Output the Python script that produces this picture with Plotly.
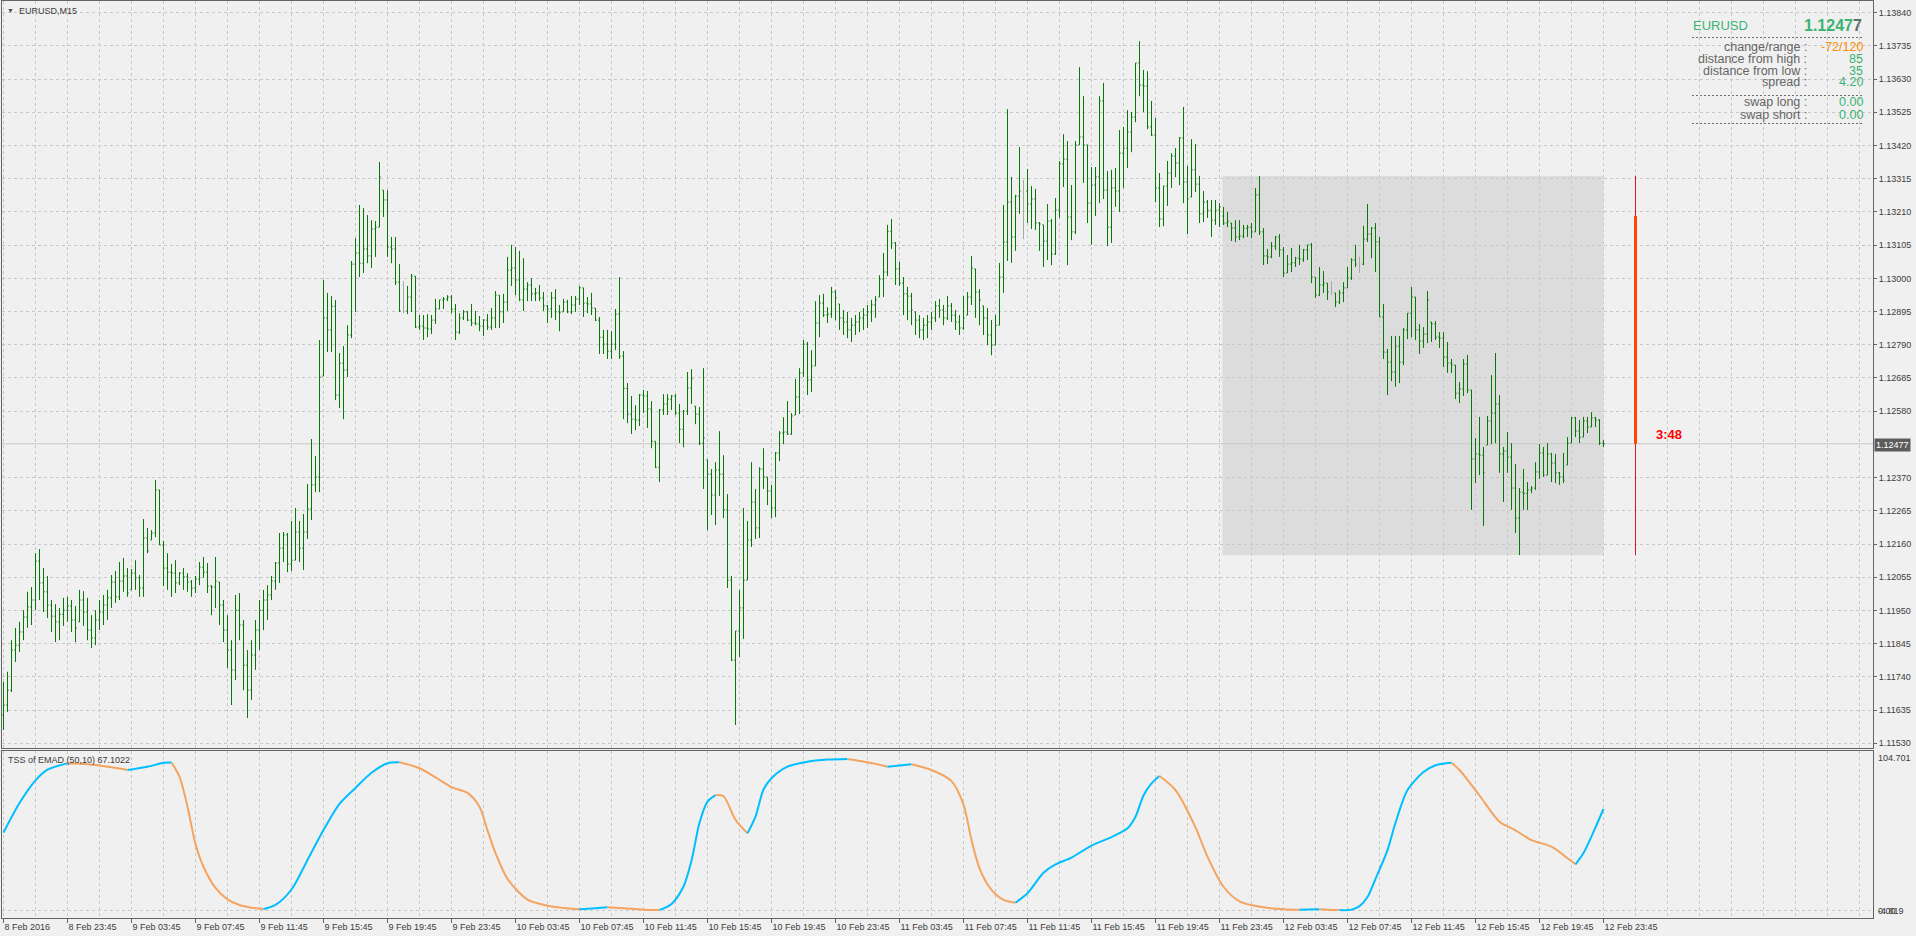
import plotly.graph_objects as go

# ------------------------------------------------------------------
# DATA  (EURUSD M15, bar 0 = 8 Feb 2016 19:45 ... bar 400 = 12 Feb 23:45)
# ------------------------------------------------------------------
opens = [
    1.11619, 1.11651, 1.11698, 1.11825, 1.11840, 1.11882, 1.11929, 1.11961, 1.11983, 1.12106,
    1.12037, 1.12009, 1.11967, 1.11932, 1.11914, 1.11938, 1.11951, 1.11964, 1.11920, 1.11914,
    1.11983, 1.11945, 1.11888, 1.11863, 1.11920, 1.11945, 1.11967, 1.11990, 1.12040, 1.11993,
    1.12043, 1.12059, 1.12015, 1.12068, 1.12053, 1.12021, 1.12179, 1.12173, 1.12195, 1.12331,
    1.12157, 1.12084, 1.12071, 1.12068, 1.12037, 1.12068, 1.12056, 1.12040, 1.12021, 1.12049,
    1.12087, 1.12071, 1.12027, 1.12024, 1.12040, 1.11967, 1.11888, 1.11825, 1.11762, 1.11951,
    1.11904, 1.11777, 1.11698, 1.11809, 1.11888, 1.11951, 1.11983, 1.11999, 1.12043, 1.12100,
    1.12147, 1.12189, 1.12097, 1.12109, 1.12198, 1.12147, 1.12198, 1.12271, 1.12347, 1.12372,
    1.12691, 1.12875, 1.12837, 1.12912, 1.12631, 1.12732, 1.12710, 1.12821, 1.13045, 1.13080,
    1.13048, 1.13093, 1.13071, 1.13156, 1.13162, 1.13279, 1.13248, 1.13099, 1.13093, 1.12988,
    1.12897, 1.12897, 1.12941, 1.13007, 1.12846, 1.12849, 1.12843, 1.12840, 1.12868, 1.12903,
    1.12932, 1.12935, 1.12941, 1.12903, 1.12830, 1.12875, 1.12894, 1.12868, 1.12859, 1.12856,
    1.12849, 1.12868, 1.12846, 1.12875, 1.12947, 1.12894, 1.12925, 1.13026, 1.13033, 1.12995,
    1.12932, 1.12966, 1.12979, 1.12951, 1.12954, 1.12938, 1.12913, 1.12903, 1.12938, 1.12894,
    1.12894, 1.12925, 1.12894, 1.12916, 1.12935, 1.12970, 1.12922, 1.12919, 1.12906, 1.12868,
    1.12814, 1.12792, 1.12770, 1.12792, 1.12887, 1.12754, 1.12652, 1.12571, 1.12555, 1.12552,
    1.12631, 1.12628, 1.12587, 1.12485, 1.12403, 1.12584, 1.12603, 1.12618, 1.12628, 1.12574,
    1.12523, 1.12580, 1.12653, 1.12596, 1.12571, 1.12479, 1.12426, 1.12381, 1.12315, 1.12394,
    1.12381, 1.12268, 1.12046, 1.11793, 1.11885, 1.11958, 1.12046, 1.12173, 1.12293, 1.12211,
    1.12397, 1.12372, 1.12328, 1.12274, 1.12448, 1.12511, 1.12514, 1.12508, 1.12568, 1.12625,
    1.12701, 1.12792, 1.12679, 1.12723, 1.12859, 1.12922, 1.12884, 1.12887, 1.12957, 1.12919,
    1.12875, 1.12862, 1.12837, 1.12852, 1.12862, 1.12875, 1.12884, 1.12894, 1.12916, 1.12941,
    1.12998, 1.13020, 1.13149, 1.13112, 1.13030, 1.12985, 1.12951, 1.12944, 1.12894, 1.12868,
    1.12837, 1.12852, 1.12862, 1.12875, 1.12913, 1.12900, 1.12875, 1.12913, 1.12884, 1.12862,
    1.12843, 1.12884, 1.12941, 1.13030, 1.12957, 1.12913, 1.12875, 1.12821, 1.12789, 1.12852,
    1.13004, 1.13115, 1.13241, 1.13131, 1.13260, 1.13276, 1.13276, 1.13235, 1.13251, 1.13175,
    1.13169, 1.13118, 1.13181, 1.13077, 1.13216, 1.13362, 1.13377, 1.13194, 1.13147, 1.13422,
    1.13447, 1.13422, 1.13238, 1.13295, 1.13321, 1.13561, 1.13279, 1.13162, 1.13286, 1.13276,
    1.13396, 1.13412, 1.13463, 1.13510, 1.13681, 1.13611, 1.13608, 1.13479, 1.13453, 1.13286,
    1.13188, 1.13292, 1.13333, 1.13387, 1.13365, 1.13444, 1.13305, 1.13257, 1.13343, 1.13298,
    1.13204, 1.13241, 1.13216, 1.13184, 1.13216, 1.13197, 1.13175, 1.13175, 1.13159, 1.13131,
    1.13134, 1.13159, 1.13162, 1.13147, 1.13264, 1.13147, 1.13071, 1.13068, 1.13102, 1.13131,
    1.13090, 1.13017, 1.13045, 1.13049, 1.13064, 1.13061, 1.13090, 1.13106, 1.13004, 1.12947,
    1.12979, 1.12985, 1.12957, 1.12954, 1.12925, 1.12954, 1.12970, 1.13001, 1.13058, 1.13045,
    1.13045, 1.13124, 1.13140, 1.13159, 1.13115, 1.12878, 1.12767, 1.12735, 1.12704, 1.12786,
    1.12735, 1.12837, 1.12890, 1.12941, 1.12837, 1.12802, 1.12824, 1.12862, 1.12856, 1.12814,
    1.12811, 1.12751, 1.12732, 1.12726, 1.12637, 1.12650, 1.12729, 1.12647, 1.12429, 1.12445,
    1.12441, 1.12473, 1.12549, 1.12574, 1.12603, 1.12445, 1.12454, 1.12435, 1.12337, 1.12242,
    1.12324, 1.12320, 1.12331, 1.12337, 1.12388, 1.12448, 1.12378, 1.12445, 1.12416, 1.12385,
    1.12372, 1.12410, 1.12479, 1.12559, 1.12517, 1.12498, 1.12549, 1.12530, 1.12559, 1.12552,
    1.12479,
]
highs = [
    1.11724, 1.11756, 1.11856, 1.11895, 1.11914, 1.11951, 1.12009, 1.12024, 1.12131, 1.12144,
    1.12084, 1.12059, 1.11983, 1.11970, 1.11958, 1.11990, 1.11993, 1.11983, 1.11964, 1.12015,
    1.12011, 1.11990, 1.11935, 1.11951, 1.11983, 1.11999, 1.12015, 1.12062, 1.12075, 1.12103,
    1.12116, 1.12084, 1.12081, 1.12109, 1.12062, 1.12239, 1.12211, 1.12204, 1.12362, 1.12331,
    1.12170, 1.12131, 1.12097, 1.12109, 1.12071, 1.12084, 1.12068, 1.12046, 1.12059, 1.12103,
    1.12119, 1.12100, 1.12030, 1.12119, 1.12040, 1.11983, 1.11935, 1.11856, 1.11999, 1.12005,
    1.11920, 1.11825, 1.11856, 1.11920, 1.11983, 1.12015, 1.12030, 1.12059, 1.12103, 1.12195,
    1.12198, 1.12195, 1.12233, 1.12274, 1.12233, 1.12255, 1.12350, 1.12492, 1.12438, 1.12805,
    1.12995, 1.12954, 1.12944, 1.12932, 1.12764, 1.12786, 1.12852, 1.13055, 1.13127, 1.13232,
    1.13222, 1.13200, 1.13184, 1.13181, 1.13368, 1.13279, 1.13279, 1.13131, 1.13131, 1.13045,
    1.12991, 1.12976, 1.13014, 1.13007, 1.12884, 1.12884, 1.12887, 1.12884, 1.12935, 1.12932,
    1.12941, 1.12947, 1.12947, 1.12919, 1.12890, 1.12900, 1.12897, 1.12919, 1.12897, 1.12881,
    1.12871, 1.12887, 1.12906, 1.12960, 1.12947, 1.12951, 1.13068, 1.13106, 1.13099, 1.13087,
    1.13064, 1.12988, 1.13001, 1.12970, 1.12979, 1.12957, 1.12916, 1.12957, 1.12966, 1.12916,
    1.12935, 1.12932, 1.12944, 1.12944, 1.12976, 1.12970, 1.12941, 1.12954, 1.12906, 1.12878,
    1.12837, 1.12837, 1.12833, 1.12903, 1.13004, 1.12770, 1.12669, 1.12628, 1.12599, 1.12634,
    1.12647, 1.12644, 1.12612, 1.12485, 1.12587, 1.12634, 1.12634, 1.12631, 1.12634, 1.12603,
    1.12584, 1.12704, 1.12713, 1.12596, 1.12593, 1.12716, 1.12426, 1.12397, 1.12419, 1.12517,
    1.12441, 1.12318, 1.12059, 1.11885, 1.12015, 1.12274, 1.12233, 1.12419, 1.12334, 1.12403,
    1.12463, 1.12372, 1.12347, 1.12451, 1.12517, 1.12561, 1.12612, 1.12574, 1.12682, 1.12716,
    1.12805, 1.12799, 1.12773, 1.12928, 1.12947, 1.12951, 1.12909, 1.12973, 1.12963, 1.12919,
    1.12900, 1.12894, 1.12875, 1.12884, 1.12894, 1.12906, 1.12916, 1.12932, 1.12944, 1.13010,
    1.13080, 1.13169, 1.13188, 1.13115, 1.13052, 1.13004, 1.12973, 1.12954, 1.12894, 1.12884,
    1.12875, 1.12884, 1.12894, 1.12928, 1.12935, 1.12916, 1.12944, 1.12922, 1.12900, 1.12884,
    1.12944, 1.12957, 1.13071, 1.13030, 1.12966, 1.12913, 1.12906, 1.12868, 1.12884, 1.13049,
    1.13232, 1.13535, 1.13321, 1.13264, 1.13415, 1.13311, 1.13346, 1.13292, 1.13283, 1.13178,
    1.13169, 1.13235, 1.13188, 1.13254, 1.13371, 1.13456, 1.13434, 1.13295, 1.13434, 1.13668,
    1.13576, 1.13422, 1.13352, 1.13352, 1.13576, 1.13618, 1.13339, 1.13343, 1.13349, 1.13469,
    1.13479, 1.13532, 1.13526, 1.13681, 1.13750, 1.13659, 1.13655, 1.13561, 1.13507, 1.13333,
    1.13292, 1.13371, 1.13396, 1.13412, 1.13447, 1.13542, 1.13355, 1.13440, 1.13425, 1.13324,
    1.13276, 1.13248, 1.13248, 1.13248, 1.13238, 1.13226, 1.13210, 1.13175, 1.13184, 1.13184,
    1.13169, 1.13169, 1.13175, 1.13286, 1.13324, 1.13159, 1.13093, 1.13115, 1.13134, 1.13140,
    1.13099, 1.13074, 1.13096, 1.13068, 1.13106, 1.13093, 1.13106, 1.13112, 1.13004, 1.13036,
    1.13023, 1.12985, 1.12991, 1.12954, 1.12963, 1.12988, 1.13036, 1.13064, 1.13106, 1.13068,
    1.13166, 1.13235, 1.13162, 1.13175, 1.13131, 1.12919, 1.12777, 1.12818, 1.12818, 1.12818,
    1.12843, 1.12890, 1.12973, 1.12941, 1.12856, 1.12846, 1.12960, 1.12862, 1.12865, 1.12830,
    1.12830, 1.12799, 1.12745, 1.12726, 1.12672, 1.12745, 1.12758, 1.12647, 1.12495, 1.12562,
    1.12467, 1.12565, 1.12694, 1.12764, 1.12631, 1.12467, 1.12514, 1.12479, 1.12413, 1.12337,
    1.12397, 1.12356, 1.12343, 1.12419, 1.12476, 1.12467, 1.12479, 1.12448, 1.12445, 1.12388,
    1.12448, 1.12498, 1.12562, 1.12562, 1.12552, 1.12562, 1.12562, 1.12577, 1.12562, 1.12555,
    1.12489,
]
lows = [
    1.11572, 1.11629, 1.11692, 1.11787, 1.11819, 1.11856, 1.11895, 1.11904, 1.11951, 1.11983,
    1.11945, 1.11926, 1.11882, 1.11850, 1.11856, 1.11901, 1.11914, 1.11882, 1.11850, 1.11914,
    1.11901, 1.11856, 1.11831, 1.11840, 1.11888, 1.11904, 1.11920, 1.11958, 1.11974, 1.11983,
    1.12009, 1.11993, 1.12015, 1.12015, 1.11993, 1.11993, 1.12131, 1.12173, 1.12182, 1.12157,
    1.12027, 1.12015, 1.11993, 1.12005, 1.12030, 1.12015, 1.12009, 1.11993, 1.12005, 1.12030,
    1.12053, 1.12005, 1.11935, 1.11958, 1.11904, 1.11850, 1.11768, 1.11651, 1.11730, 1.11856,
    1.11698, 1.11610, 1.11667, 1.11762, 1.11825, 1.11888, 1.11920, 1.11983, 1.12015, 1.12037,
    1.12103, 1.12071, 1.12075, 1.12109, 1.12103, 1.12078, 1.12176, 1.12236, 1.12324, 1.12324,
    1.12691, 1.12767, 1.12767, 1.12615, 1.12590, 1.12555, 1.12688, 1.12811, 1.12894, 1.13004,
    1.13017, 1.13048, 1.13033, 1.13068, 1.13162, 1.13194, 1.13068, 1.13048, 1.12979, 1.12894,
    1.12890, 1.12887, 1.12894, 1.12843, 1.12837, 1.12805, 1.12814, 1.12824, 1.12856, 1.12903,
    1.12903, 1.12928, 1.12890, 1.12805, 1.12824, 1.12868, 1.12865, 1.12849, 1.12852, 1.12833,
    1.12818, 1.12837, 1.12837, 1.12843, 1.12843, 1.12859, 1.12897, 1.12976, 1.12947, 1.12928,
    1.12897, 1.12928, 1.12928, 1.12928, 1.12928, 1.12897, 1.12859, 1.12875, 1.12868, 1.12833,
    1.12894, 1.12890, 1.12887, 1.12894, 1.12916, 1.12878, 1.12890, 1.12884, 1.12865, 1.12761,
    1.12761, 1.12745, 1.12745, 1.12773, 1.12745, 1.12555, 1.12542, 1.12508, 1.12520, 1.12533,
    1.12574, 1.12527, 1.12463, 1.12400, 1.12356, 1.12568, 1.12568, 1.12584, 1.12568, 1.12479,
    1.12466, 1.12568, 1.12603, 1.12539, 1.12473, 1.12334, 1.12204, 1.12252, 1.12220, 1.12312,
    1.12242, 1.12021, 1.11790, 1.11588, 1.11803, 1.11860, 1.12046, 1.12151, 1.12176, 1.12179,
    1.12334, 1.12283, 1.12242, 1.12245, 1.12422, 1.12476, 1.12505, 1.12505, 1.12568, 1.12571,
    1.12688, 1.12631, 1.12641, 1.12723, 1.12814, 1.12878, 1.12859, 1.12875, 1.12868, 1.12837,
    1.12821, 1.12811, 1.12799, 1.12821, 1.12830, 1.12837, 1.12843, 1.12862, 1.12875, 1.12941,
    1.12941, 1.13007, 1.13093, 1.12979, 1.12976, 1.12884, 1.12868, 1.12852, 1.12821, 1.12811,
    1.12805, 1.12811, 1.12837, 1.12862, 1.12875, 1.12852, 1.12868, 1.12862, 1.12837, 1.12821,
    1.12837, 1.12884, 1.12916, 1.12875, 1.12852, 1.12821, 1.12789, 1.12757, 1.12789, 1.12852,
    1.12954, 1.13055, 1.13049, 1.13087, 1.13204, 1.13124, 1.13175, 1.13156, 1.13153, 1.13087,
    1.13036, 1.13058, 1.13042, 1.13074, 1.13191, 1.13289, 1.13042, 1.13121, 1.13140, 1.13422,
    1.13302, 1.13175, 1.13106, 1.13197, 1.13238, 1.13251, 1.13102, 1.13112, 1.13226, 1.13210,
    1.13286, 1.13349, 1.13399, 1.13494, 1.13576, 1.13526, 1.13472, 1.13450, 1.13241, 1.13162,
    1.13165, 1.13229, 1.13286, 1.13320, 1.13295, 1.13238, 1.13140, 1.13257, 1.13273, 1.13175,
    1.13178, 1.13191, 1.13131, 1.13169, 1.13162, 1.13169, 1.13162, 1.13118, 1.13115, 1.13121,
    1.13127, 1.13131, 1.13127, 1.13147, 1.13137, 1.13042, 1.13045, 1.13064, 1.13090, 1.13068,
    1.13004, 1.13017, 1.13020, 1.13036, 1.13042, 1.13052, 1.13058, 1.12985, 1.12938, 1.12944,
    1.12954, 1.12932, 1.12947, 1.12909, 1.12919, 1.12925, 1.12970, 1.12995, 1.13036, 1.13017,
    1.13042, 1.13115, 1.13064, 1.13020, 1.12878, 1.12745, 1.12631, 1.12675, 1.12657, 1.12669,
    1.12726, 1.12808, 1.12814, 1.12805, 1.12761, 1.12780, 1.12795, 1.12799, 1.12805, 1.12780,
    1.12720, 1.12701, 1.12701, 1.12618, 1.12606, 1.12628, 1.12637, 1.12268, 1.12353, 1.12378,
    1.12217, 1.12473, 1.12476, 1.12479, 1.12385, 1.12293, 1.12385, 1.12268, 1.12195, 1.12125,
    1.12268, 1.12268, 1.12321, 1.12331, 1.12366, 1.12372, 1.12378, 1.12356, 1.12353, 1.12347,
    1.12353, 1.12410, 1.12479, 1.12498, 1.12479, 1.12498, 1.12511, 1.12530, 1.12530, 1.12473,
    1.12467,
]
closes = [
    1.11651, 1.11698, 1.11825, 1.11840, 1.11882, 1.11929, 1.11961, 1.11983, 1.12106, 1.12037,
    1.12009, 1.11967, 1.11932, 1.11914, 1.11938, 1.11951, 1.11964, 1.11920, 1.11895, 1.11983,
    1.11945, 1.11888, 1.11863, 1.11920, 1.11945, 1.11967, 1.11990, 1.12040, 1.11993, 1.12043,
    1.12059, 1.12005, 1.12068, 1.12053, 1.12021, 1.12179, 1.12138, 1.12195, 1.12331, 1.12157,
    1.12084, 1.12071, 1.12068, 1.12037, 1.12068, 1.12056, 1.12040, 1.12021, 1.12049, 1.12087,
    1.12071, 1.12027, 1.12024, 1.12043, 1.11967, 1.11888, 1.11825, 1.11762, 1.11951, 1.11904,
    1.11777, 1.11698, 1.11809, 1.11888, 1.11951, 1.11983, 1.11999, 1.12043, 1.12100, 1.12147,
    1.12189, 1.12097, 1.12109, 1.12198, 1.12147, 1.12198, 1.12271, 1.12347, 1.12372, 1.12688,
    1.12875, 1.12837, 1.12912, 1.12631, 1.12732, 1.12710, 1.12821, 1.13045, 1.13080, 1.13048,
    1.13093, 1.13071, 1.13156, 1.13162, 1.13321, 1.13248, 1.13099, 1.13093, 1.12988, 1.12897,
    1.12897, 1.12941, 1.13007, 1.12846, 1.12849, 1.12843, 1.12840, 1.12868, 1.12903, 1.12932,
    1.12935, 1.12941, 1.12903, 1.12830, 1.12875, 1.12894, 1.12868, 1.12859, 1.12856, 1.12849,
    1.12868, 1.12846, 1.12875, 1.12947, 1.12894, 1.12925, 1.13026, 1.13033, 1.12995, 1.12932,
    1.12966, 1.12979, 1.12951, 1.12954, 1.12938, 1.12913, 1.12903, 1.12938, 1.12894, 1.12891,
    1.12925, 1.12894, 1.12916, 1.12935, 1.12970, 1.12922, 1.12919, 1.12906, 1.12868, 1.12814,
    1.12792, 1.12770, 1.12792, 1.12887, 1.12754, 1.12652, 1.12571, 1.12555, 1.12552, 1.12631,
    1.12628, 1.12587, 1.12485, 1.12403, 1.12584, 1.12603, 1.12618, 1.12628, 1.12574, 1.12523,
    1.12580, 1.12653, 1.12682, 1.12571, 1.12479, 1.12495, 1.12381, 1.12315, 1.12394, 1.12381,
    1.12268, 1.12046, 1.11793, 1.11885, 1.11958, 1.12046, 1.12173, 1.12293, 1.12211, 1.12397,
    1.12372, 1.12328, 1.12274, 1.12448, 1.12511, 1.12514, 1.12508, 1.12565, 1.12625, 1.12701,
    1.12792, 1.12679, 1.12723, 1.12859, 1.12922, 1.12884, 1.12887, 1.12957, 1.12938, 1.12875,
    1.12862, 1.12837, 1.12852, 1.12862, 1.12875, 1.12884, 1.12894, 1.12916, 1.12932, 1.12998,
    1.13020, 1.13149, 1.13112, 1.13030, 1.12985, 1.12951, 1.12944, 1.12900, 1.12868, 1.12837,
    1.12852, 1.12862, 1.12875, 1.12913, 1.12900, 1.12875, 1.12913, 1.12884, 1.12862, 1.12843,
    1.12875, 1.12941, 1.13033, 1.12957, 1.12932, 1.12875, 1.12821, 1.12789, 1.12852, 1.13004,
    1.13115, 1.13241, 1.13131, 1.13260, 1.13276, 1.13276, 1.13235, 1.13251, 1.13175, 1.13172,
    1.13118, 1.13181, 1.13077, 1.13216, 1.13362, 1.13377, 1.13194, 1.13147, 1.13422, 1.13447,
    1.13422, 1.13238, 1.13295, 1.13321, 1.13561, 1.13279, 1.13162, 1.13286, 1.13276, 1.13396,
    1.13412, 1.13463, 1.13510, 1.13681, 1.13611, 1.13608, 1.13479, 1.13453, 1.13286, 1.13188,
    1.13292, 1.13333, 1.13387, 1.13365, 1.13444, 1.13305, 1.13251, 1.13343, 1.13298, 1.13204,
    1.13241, 1.13216, 1.13184, 1.13216, 1.13226, 1.13175, 1.13181, 1.13159, 1.13131, 1.13134,
    1.13159, 1.13162, 1.13147, 1.13264, 1.13147, 1.13071, 1.13068, 1.13102, 1.13131, 1.13090,
    1.13017, 1.13045, 1.13049, 1.13064, 1.13061, 1.13090, 1.13106, 1.13004, 1.12947, 1.12979,
    1.12985, 1.12957, 1.12957, 1.12925, 1.12954, 1.12970, 1.13001, 1.13058, 1.13045, 1.13045,
    1.13124, 1.13140, 1.13159, 1.13115, 1.12878, 1.12767, 1.12735, 1.12704, 1.12786, 1.12735,
    1.12837, 1.12890, 1.12941, 1.12837, 1.12802, 1.12824, 1.12932, 1.12856, 1.12814, 1.12811,
    1.12751, 1.12732, 1.12726, 1.12637, 1.12650, 1.12729, 1.12647, 1.12429, 1.12445, 1.12441,
    1.12385, 1.12549, 1.12574, 1.12603, 1.12445, 1.12454, 1.12435, 1.12337, 1.12242, 1.12324,
    1.12320, 1.12331, 1.12337, 1.12388, 1.12448, 1.12378, 1.12445, 1.12416, 1.12385, 1.12372,
    1.12362, 1.12479, 1.12559, 1.12517, 1.12498, 1.12549, 1.12530, 1.12559, 1.12552, 1.12479,
    1.12477,
]
session_start_bar = 305          # first M15 bar of 12 Feb (today's range box)

# TSS of EMAD (50,10) oscillator, sampled at bar positions
tss_bar = [0, 4, 8, 11, 16, 21, 27, 31, 36, 40, 42, 44, 46, 48, 50, 53, 56, 59, 62, 65,
           68, 72, 76, 80, 84, 88, 92, 96, 99, 104, 108, 112, 116, 119, 121, 123, 126, 131, 136, 140,
           144, 148, 151, 155, 160, 164, 167, 170, 172, 174, 176, 178, 180, 183, 186, 188, 190, 192, 196, 201,
           206, 211, 216, 221, 227, 232, 237, 240, 242, 244, 247, 250, 253, 256, 260, 263, 267, 272, 277, 281,
           283, 285, 287, 289, 293, 298, 301, 305, 309, 315, 320, 324, 326, 329, 331, 334, 337, 339, 341, 343,
           346, 348, 351, 355, 358, 362, 364, 369, 374, 378, 382, 387, 391, 393, 395, 398, 400]
tss_val = [51.5, 71.0, 86.0, 93.0, 97.2, 96.6, 94.6, 92.8, 95.0, 97.6, 97.8, 88.4, 68.6, 44.0, 29.0, 15.0, 7.5, 3.8, 2.0, 1.1,
           3.8, 14.0, 33.5, 53.2, 70.5, 81.0, 91.0, 97.3, 97.9, 94.0, 88.0, 81.5, 77.7, 68.6, 53.0, 38.0, 21.0, 7.3, 3.3, 1.8,
           0.9, 1.6, 2.2, 1.6, 0.7, 0.5, 4.5, 16.0, 33.0, 58.0, 72.0, 76.3, 75.5, 60.0, 51.0, 62.0, 80.0, 87.4, 95.0, 98.3,
           99.7, 100.1, 97.9, 95.0, 96.6, 92.8, 85.5, 70.0, 46.6, 28.0, 13.7, 7.1, 5.3, 11.5, 25.0, 30.5, 35.0, 43.0, 48.6, 54.4,
           62.0, 76.0, 84.0, 88.9, 79.6, 55.0, 35.6, 15.8, 6.2, 2.2, 1.0, 0.6, 0.8, 0.9, 0.6, 0.4, 0.7, 3.0, 9.0, 21.0,
           40.0, 58.0, 79.6, 91.5, 96.0, 97.6, 92.8, 76.0, 58.7, 53.0, 46.6, 42.2, 34.6, 30.6, 38.0, 55.0, 67.1]

x_tick_labels = ["8 Feb 2016", "8 Feb 23:45",
                 "9 Feb 03:45", "9 Feb 07:45", "9 Feb 11:45", "9 Feb 15:45", "9 Feb 19:45", "9 Feb 23:45",
                 "10 Feb 03:45", "10 Feb 07:45", "10 Feb 11:45", "10 Feb 15:45", "10 Feb 19:45", "10 Feb 23:45",
                 "11 Feb 03:45", "11 Feb 07:45", "11 Feb 11:45", "11 Feb 15:45", "11 Feb 19:45", "11 Feb 23:45",
                 "12 Feb 03:45", "12 Feb 07:45", "12 Feb 11:45", "12 Feb 15:45", "12 Feb 19:45", "12 Feb 23:45"]
bars_per_label = 16
price_ticks = [1.13840, 1.13735, 1.13630, 1.13525, 1.13420, 1.13315, 1.13210, 1.13105, 1.13000,
               1.12895, 1.12790, 1.12685, 1.12580, 1.12370, 1.12265, 1.12160, 1.12055,
               1.11950, 1.11845, 1.11740, 1.11635, 1.11530]
ind_labels = ["104.701", "0.00", "-4.819"]
ind_range = [-4.819, 105.36]

info_labels = ["change/range :", "distance from high :", "distance from low :", "spread :"]
info_values = ["-72/120", "85", "35", "4.20"]
swap_labels = ["swap long :", "swap short :"]
swap_values = ["0.00", "0.00"]
symbol = "EURUSD"
timeframe_title = "EURUSD,M15"
indicator_title = "TSS of EMAD (50,10) 67.1022"
time_left = "3:48"

# ------------------------------------------------------------------
# STYLE / LAYOUT
# ------------------------------------------------------------------
W, H = 1916, 936
FONT = "Liberation Sans, Arial, Helvetica, sans-serif"
BG = "#F0F0F0"
FRAME = "#646464"
GRID = "#C8C8C8"
TXT = "#3C3C3C"
GREEN_BAR = "#087808"
DOJI = "#A8A8A8"
INFO_GREEN = "#3CB371"
INFO_ORANGE = "#FF8C00"
INFO_GRAY = "#666666"
UP_COL = "#00BFFF"
DN_COL = "#F4A460"


def px(x):
    return x / W


def py(y):
    return 1 - y / H


X0_PX, X1_PX = 2, 1873
BAR0_PX, BAR_STEP = 3.5, 4.0
xr = [(X0_PX - BAR0_PX) / BAR_STEP, (X1_PX - BAR0_PX) / BAR_STEP]

bars = list(range(len(closes)))
doji = [i for i in bars if opens[i] == closes[i]]
norm = [i for i in bars if opens[i] != closes[i]]

fig = go.Figure()

fig.add_trace(go.Ohlc(
    x=[bars[i] for i in norm], open=[opens[i] for i in norm], high=[highs[i] for i in norm],
    low=[lows[i] for i in norm], close=[closes[i] for i in norm],
    increasing=dict(line=dict(color=GREEN_BAR, width=1)),
    decreasing=dict(line=dict(color=GREEN_BAR, width=1)),
    tickwidth=0.3, hoverinfo="skip", showlegend=False, xaxis="x", yaxis="y"))

if doji:
    gap = min([b - a for a, b in zip(doji, doji[1:])] or [1])
    fig.add_trace(go.Ohlc(
        x=[bars[i] for i in doji], open=[opens[i] for i in doji], high=[highs[i] for i in doji],
        low=[lows[i] for i in doji], close=[closes[i] for i in doji],
        increasing=dict(line=dict(color=DOJI, width=1)),
        decreasing=dict(line=dict(color=DOJI, width=1)),
        tickwidth=min(0.5, 0.3 / gap), hoverinfo="skip", showlegend=False, xaxis="x", yaxis="y"))

# indicator: blue when rising, orange when falling
runs = []
cur = [0]
cur_dir = None
for k in range(1, len(tss_bar)):
    d = tss_val[k] >= tss_val[k - 1]
    if cur_dir is None or d == cur_dir:
        cur.append(k)
        cur_dir = d
    else:
        runs.append((cur_dir, cur))
        cur = [k - 1, k]
        cur_dir = d
runs.append((cur_dir, cur))
for up, idx in runs:
    fig.add_trace(go.Scatter(
        x=[tss_bar[i] for i in idx], y=[tss_val[i] for i in idx], mode="lines",
        line=dict(color=UP_COL if up else DN_COL, width=2, shape="spline", smoothing=0.8),
        hoverinfo="skip", showlegend=False, xaxis="x2", yaxis="y2"))

# session range box, current price line, range / change bars
last = len(closes) - 1
day_high = max(highs[session_start_bar:])
day_low = min(lows[session_start_bar:])
day_open = opens[session_start_bar]
shapes = [
    dict(type="rect", xref="x", yref="y", x0=session_start_bar - 0.25, x1=last,
         y0=day_low, y1=day_high, fillcolor="#DCDCDC", line=dict(width=0), layer="below"),
    dict(type="line", xref="x", yref="y", x0=xr[0], x1=xr[1], y0=closes[-1], y1=closes[-1],
         line=dict(color="#C8C8C8", width=1), layer="below"),
    dict(type="line", xref="x", yref="y", x0=last + 8, x1=last + 8, y0=day_low, y1=day_high,
         line=dict(color="#DC143C", width=1)),
    dict(type="line", xref="x", yref="y", x0=last + 8, x1=last + 8, y0=day_open, y1=closes[-1],
         line=dict(color="#FF4500", width=3)),
]
# info panel separators
for yy in (37.5, 95.5, 123.5):
    shapes.append(dict(type="line", xref="paper", yref="paper", x0=px(1692), x1=px(1863),
                       y0=py(yy), y1=py(yy), line=dict(color="#707070", width=1, dash="2px,2px")))

annotations = []


def ann(text, x, y, xanchor="left", size=9, color=TXT, **kw):
    annotations.append(dict(text=text, x=px(x), y=py(y), xref="paper", yref="paper",
                            xanchor=xanchor, yanchor="middle", showarrow=False,
                            font=dict(family=FONT, size=size, color=color), **kw))


ann("▼", 5, 10.5, size=7, color="#505050")
ann(timeframe_title, 17, 11)
ann(indicator_title, 6, 759.5)
ann(ind_labels[0], 1876, 757.5)
ann(ind_labels[2], 1876, 911)
ann(ind_labels[1], 1876, 911)

price_txt = "%.5f" % closes[-1]
ann(price_txt, 1874, 444.5, color="#FFFFFF", bgcolor="#5C5C5C", borderpad=1)

ann(symbol, 1691, 25.5, size=13, color=INFO_GREEN)
ann("<b>%s<span style='color:#5E6E68'>%s</span></b>" % (price_txt[:-1], price_txt[-1]),
    1864, 25.5, xanchor="right", size=16, color=INFO_GREEN)
for i, (lab, val) in enumerate(zip(info_labels, info_values)):
    yy = [46.7, 59.0, 70.7, 82.3][i]
    ann(lab, 1808, yy, xanchor="right", size=12.5, color=INFO_GRAY, borderpad=0)
    ann(val, 1864, yy, xanchor="right", size=12.5,
        color=INFO_ORANGE if i == 0 else INFO_GREEN, borderpad=0)
for i, (lab, val) in enumerate(zip(swap_labels, swap_values)):
    yy = [102.3, 115.0][i]
    ann(lab, 1808, yy, xanchor="right", size=12.5, color=INFO_GRAY, borderpad=0)
    ann(val, 1864, yy, xanchor="right", size=12.5, color=INFO_GREEN, borderpad=0)

ann("<b>%s</b>" % time_left, 1669, 434, xanchor="center", size=13, color="#FF0000")

tick_pos = [bars_per_label * k for k in range(len(x_tick_labels))]

fig.update_layout(
    width=W, height=H, margin=dict(l=0, r=0, t=0, b=0),
    paper_bgcolor=BG, plot_bgcolor=BG, showlegend=False, hovermode=False,
    font=dict(family=FONT, size=9, color=TXT),
    shapes=shapes, annotations=annotations,
    xaxis=dict(domain=[px(X0_PX), px(X1_PX)], range=xr, anchor="y",
               tickmode="linear", tick0=0, dtick=8, showticklabels=False, ticks="",
               showgrid=True, gridcolor=GRID, griddash="3px,3px", gridwidth=1,
               showline=True, linecolor=FRAME, linewidth=1, mirror=True, zeroline=False,
               rangeslider=dict(visible=False), fixedrange=True),
    yaxis=dict(domain=[py(748), py(1)], range=[1.115151, 1.13877], anchor="x", side="right",
               tickmode="array", tickvals=price_ticks, ticktext=["%.5f" % v for v in price_ticks],
               ticks="outside", ticklen=3, tickcolor=FRAME, tickfont=dict(size=9, color=TXT),
               showgrid=True, gridcolor=GRID, griddash="3px,3px", gridwidth=1,
               showline=True, linecolor=FRAME, linewidth=1, mirror=True, zeroline=False,
               fixedrange=True),
    xaxis2=dict(domain=[px(X0_PX), px(X1_PX)], range=xr, anchor="y2",
                tickmode="array", tickvals=tick_pos, ticktext=x_tick_labels,
                ticks="outside", ticklen=4, tickcolor=FRAME, ticklabelposition="outside right",
                tickfont=dict(size=9, color=TXT),
                showgrid=True, gridcolor=GRID, griddash="3px,3px", gridwidth=1,
                minor=dict(tickmode="linear", tick0=0, dtick=8, showgrid=True, gridcolor=GRID,
                           griddash="3px,3px", gridwidth=1, ticks=""),
                showline=True, linecolor=FRAME, linewidth=1, mirror=True, zeroline=False,
                rangeslider=dict(visible=False), fixedrange=True),
    yaxis2=dict(domain=[py(918), py(751)], range=ind_range, anchor="x2", side="right",
                tickmode="array", tickvals=[0], showticklabels=False, ticks="",
                showgrid=True, gridcolor=GRID, griddash="3px,3px", gridwidth=1,
                showline=True, linecolor=FRAME, linewidth=1, mirror=True, zeroline=False,
                fixedrange=True),
)

fig.write_html(
    "out.html",
    config={"displayModeBar": False, "staticPlot": True},
    post_script="document.documentElement.style.margin='0';document.body.style.margin='0';"
                "document.body.style.padding='0';document.body.style.overflow='hidden';",
)
